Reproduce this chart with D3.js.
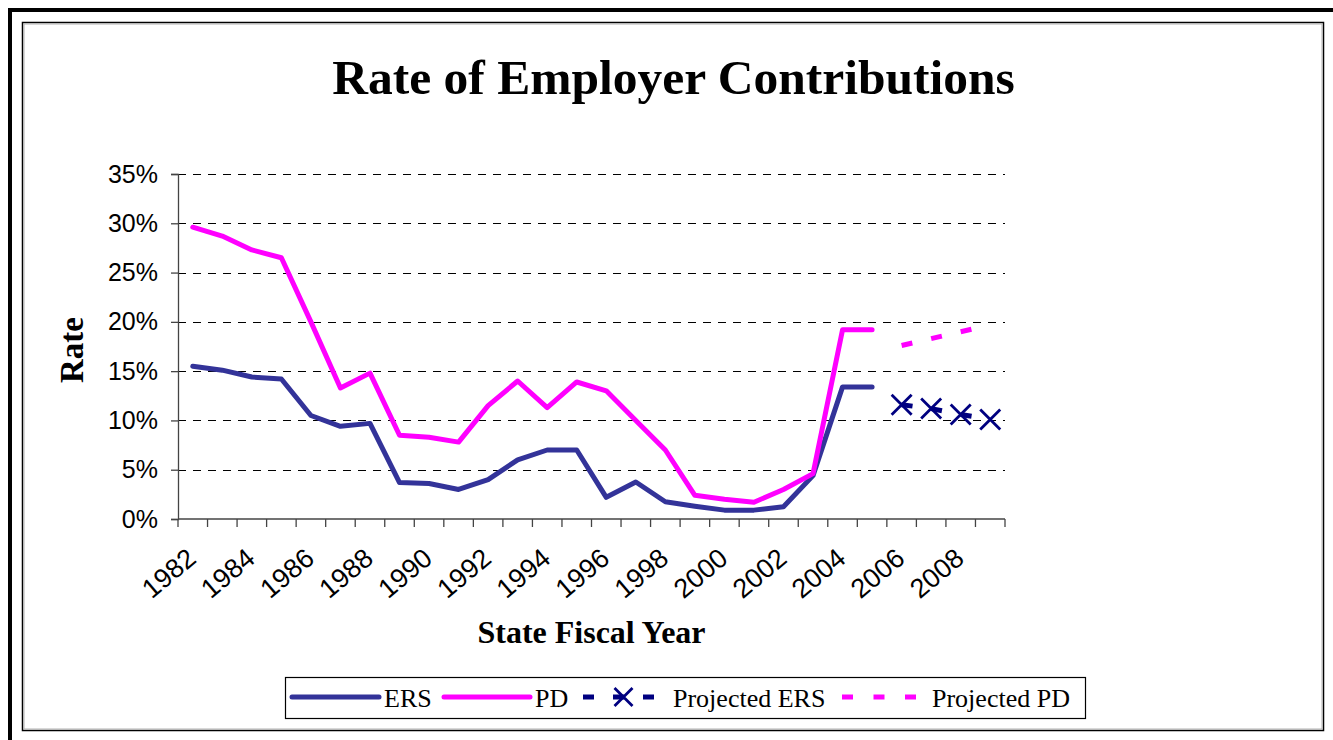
<!DOCTYPE html>
<html>
<head>
<meta charset="utf-8">
<script src="https://cdn.jsdelivr.net/npm/d3@7"></script>
<style>
  html, body { margin: 0; padding: 0; background: #fff; }
  svg { display: block; }
</style>
</head>
<body>
<svg id="chart" width="1333" height="740"></svg>
<script>
// Fiscal years on the category axis
const years = [1982, 1983, 1984, 1985, 1986, 1987, 1988, 1989, 1990, 1991,
               1992, 1993, 1994, 1995, 1996, 1997, 1998, 1999, 2000, 2001,
               2002, 2003, 2004, 2005, 2006, 2007, 2008, 2009];
const labelYears = [1982, 1984, 1986, 1988, 1990, 1992, 1994, 1996, 1998,
                    2000, 2002, 2004, 2006, 2008];

// Actual employer contribution rates (%), 1982–2005
const actualYears = [1982, 1983, 1984, 1985, 1986, 1987, 1988, 1989, 1990, 1991,
                     1992, 1993, 1994, 1995, 1996, 1997, 1998, 1999, 2000, 2001,
                     2002, 2003, 2004, 2005];
const ersValues = [15.5, 15.1, 14.4, 14.2, 10.5, 9.4, 9.7, 3.7, 3.6, 3.0,
                   4.0, 6.0, 7.0, 7.0, 2.2, 3.75, 1.75, 1.3, 0.9, 0.9,
                   1.25, 4.4, 13.4, 13.4];
const pdValues  = [29.6, 28.7, 27.3, 26.5, 20.0, 13.3, 14.8, 8.5, 8.3, 7.8,
                   11.5, 14.0, 11.3, 13.9, 13.0, 10.0, 7.0, 2.4, 2.0, 1.7,
                   3.0, 4.6, 19.2, 19.2];

// Projected rates (%), 2006–2009
const projYears = [2006, 2007, 2008, 2009];
const ersProjected = [11.6, 11.2, 10.6, 10.1];
const pdProjected  = [17.6, 18.3, 19.0, 19.7];

// Y axis ticks (%)
const yTicks = [0, 5, 10, 15, 20, 25, 30, 35];

const COLORS = { ers: "#333399", pd: "#FF00FF", ersProj: "#000080", pdProj: "#FF00FF" };
const SERIF = "'Liberation Serif', 'Times New Roman', serif";
const SANS = "'Liberation Sans', Arial, sans-serif";

const svg = d3.select("#chart");

// Frames
svg.append("rect").attr("x", 10).attr("y", 10).attr("width", 1400).attr("height", 800)
  .attr("fill", "none").attr("stroke", "#000").attr("stroke-width", 4);
svg.append("rect").attr("x", 22.5).attr("y", 22.5).attr("width", 1301).attr("height", 708)
  .attr("fill", "#fff").attr("stroke", "#000").attr("stroke-width", 1.5);
svg.append("rect").attr("x", 24).attr("y", 24).attr("width", 1298).attr("height", 705)
  .attr("fill", "none").attr("stroke", "#b0b0b0").attr("stroke-width", 1);

// Plot area
const plot = { left: 178, right: 1005, top: 174, bottom: 519 };
const x = d3.scaleBand().domain(years).range([plot.left, plot.right]).padding(0);
const bw = x.bandwidth();
const cx = yr => x(yr) + bw / 2;
const y = d3.scaleLinear().domain([0, 35]).range([plot.bottom, plot.top]);

// Title
svg.append("text")
  .attr("x", 673.5).attr("y", 93.5)
  .attr("text-anchor", "middle")
  .style("font-family", SERIF).style("font-weight", "bold").style("font-size", "49.5px")
  .text("Rate of Employer Contributions");

// Horizontal dashed gridlines
svg.append("g").selectAll("line")
  .data(yTicks.filter(t => t > 0))
  .join("line")
  .attr("x1", plot.left).attr("x2", plot.right)
  .attr("y1", d => Math.round(y(d)) + 0.5).attr("y2", d => Math.round(y(d)) + 0.5)
  .attr("stroke", "#000").attr("stroke-width", 1)
  .attr("stroke-dasharray", "8,7");

// Y axis
const yAxis = svg.append("g")
  .attr("transform", `translate(${plot.left},0)`)
  .call(d3.axisLeft(y).tickValues(yTicks).tickFormat(d => d + "%").tickSize(7).tickPadding(13));
yAxis.select(".domain").attr("stroke", "#444").attr("stroke-width", 1.3);
yAxis.selectAll(".tick line").attr("stroke", "#444").attr("stroke-width", 1.3);
yAxis.selectAll(".tick text")
  .style("font-family", SANS).style("font-size", "25px").attr("fill", "#000");

// X axis: baseline, tick marks between categories, rotated labels
const xAxis = svg.append("g");
xAxis.append("line")
  .attr("x1", plot.left).attr("x2", plot.right)
  .attr("y1", plot.bottom).attr("y2", plot.bottom)
  .attr("stroke", "#444").attr("stroke-width", 1.3);
const tickEdges = years.map(yr => x(yr)).concat([x(years[years.length - 1]) + bw]);
xAxis.selectAll("line.tick")
  .data(tickEdges)
  .join("line").attr("class", "tick")
  .attr("x1", d => d).attr("x2", d => d)
  .attr("y1", plot.bottom).attr("y2", plot.bottom + 8)
  .attr("stroke", "#444").attr("stroke-width", 1.3);
xAxis.selectAll("text")
  .data(labelYears)
  .join("text")
  .attr("transform", d => `translate(${cx(d) + 5},${plot.bottom + 42}) rotate(-40)`)
  .attr("text-anchor", "end")
  .style("font-family", SANS).style("font-size", "27px")
  .text(d => d);

// Axis titles
svg.append("text")
  .attr("x", 591.5).attr("y", 643)
  .attr("text-anchor", "middle")
  .style("font-family", SERIF).style("font-weight", "bold").style("font-size", "32px")
  .text("State Fiscal Year");
svg.append("text")
  .attr("transform", "translate(83,350) rotate(-90)")
  .attr("text-anchor", "middle")
  .style("font-family", SERIF).style("font-weight", "bold").style("font-size", "33px")
  .text("Rate");

// Series
const line = d3.line().x(d => cx(d.year)).y(d => y(d.value));
const toPoints = (yrs, vals) => yrs.map((yr, i) => ({ year: yr, value: vals[i] }));

const ersData = toPoints(actualYears, ersValues);
const pdData = toPoints(actualYears, pdValues);
const ersProjData = toPoints(projYears, ersProjected);
const pdProjData = toPoints(projYears, pdProjected);

svg.append("path").datum(ersData)
  .attr("d", line).attr("fill", "none")
  .attr("stroke", COLORS.ers).attr("stroke-width", 5)
  .attr("stroke-linejoin", "round").attr("stroke-linecap", "round");
svg.append("path").datum(pdData)
  .attr("d", line).attr("fill", "none")
  .attr("stroke", COLORS.pd).attr("stroke-width", 5)
  .attr("stroke-linejoin", "round").attr("stroke-linecap", "round");

// Projected series: dash pattern restarts on every segment
const dash = `11,${bw}`;
svg.append("g").selectAll("path")
  .data(d3.pairs(pdProjData))
  .join("path")
  .attr("d", d => line(d)).attr("fill", "none")
  .attr("stroke", COLORS.pdProj).attr("stroke-width", 5)
  .attr("stroke-dasharray", dash);
svg.append("g").selectAll("path")
  .data(d3.pairs(ersProjData))
  .join("path")
  .attr("d", d => line(d)).attr("fill", "none")
  .attr("stroke", COLORS.ersProj).attr("stroke-width", 5)
  .attr("stroke-dasharray", dash);

const xMarker = s => `M${-s},${-s}L${s},${s}M${-s},${s}L${s},${-s}`;
svg.append("g").selectAll("path")
  .data(ersProjData)
  .join("path")
  .attr("transform", d => `translate(${cx(d.year)},${y(d.value)})`)
  .attr("d", xMarker(10))
  .attr("fill", "none").attr("stroke", COLORS.ersProj).attr("stroke-width", 2.8);

// Legend
const lg = svg.append("g");
lg.append("rect").attr("x", 285.5).attr("y", 677.5).attr("width", 800).attr("height", 41)
  .attr("fill", "#fff").attr("stroke", "#000").attr("stroke-width", 1.2);
const ly = 697;
const legendText = (tx, label) => lg.append("text")
  .attr("x", tx).attr("y", 706.5)
  .style("font-family", SERIF).style("font-size", "26px")
  .text(label);

lg.append("line").attr("x1", 292).attr("x2", 379).attr("y1", ly).attr("y2", ly)
  .attr("stroke", COLORS.ers).attr("stroke-width", 5).attr("stroke-linecap", "round");
legendText(384, "ERS");

lg.append("line").attr("x1", 444).attr("x2", 530).attr("y1", ly).attr("y2", ly)
  .attr("stroke", COLORS.pd).attr("stroke-width", 5).attr("stroke-linecap", "round");
legendText(535, "PD");

lg.append("line").attr("x1", 583).attr("x2", 654).attr("y1", ly).attr("y2", ly)
  .attr("stroke", COLORS.ersProj).attr("stroke-width", 5).attr("stroke-dasharray", "11,19");
lg.append("path").attr("transform", `translate(623.5,${ly})`).attr("d", xMarker(9))
  .attr("fill", "none").attr("stroke", COLORS.ersProj).attr("stroke-width", 2.8);
legendText(673, "Projected ERS");

lg.append("line").attr("x1", 842).attr("x2", 916).attr("y1", ly).attr("y2", ly)
  .attr("stroke", COLORS.pdProj).attr("stroke-width", 5).attr("stroke-dasharray", "11,20.5");
legendText(932, "Projected PD");
</script>
</body>
</html>
